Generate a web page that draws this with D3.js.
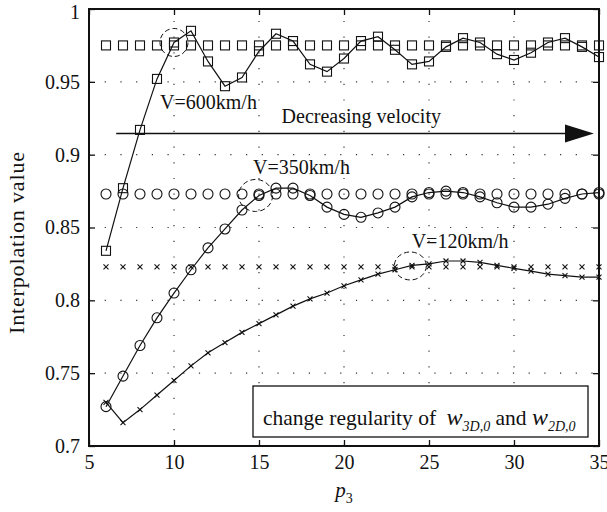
<!DOCTYPE html>
<html>
<head>
<meta charset="utf-8">
<script src="https://cdn.jsdelivr.net/npm/d3@7"></script>
<style>
body { margin: 0; background: #fff; }
svg text { font-family: "Liberation Serif", "Times New Roman", serif; fill: #111; }
</style>
</head>
<body>
<script>
const width = 607;
const height = 512;
const leftPad = 89, rightEdge = 599, topPad = 9, botEdge = 446;

// p3 values (x axis)
const p3 = [6, 7, 8, 9, 10, 11, 12, 13, 14, 15, 16, 17, 18, 19, 20,
            21, 22, 23, 24, 25, 26, 27, 28, 29, 30, 31, 32, 33, 34, 35];

// interpolation values
const v600 = [0.834, 0.877, 0.917, 0.952, 0.977, 0.985, 0.964, 0.947, 0.953, 0.971,
              0.983, 0.978, 0.962, 0.957, 0.966, 0.978, 0.981, 0.972, 0.962, 0.964,
              0.974, 0.980, 0.977, 0.969, 0.965, 0.970, 0.977, 0.980, 0.974, 0.967];
const v350 = [0.727, 0.748, 0.769, 0.788, 0.805, 0.821, 0.836, 0.849, 0.862, 0.872,
              0.877, 0.877, 0.872, 0.864, 0.859, 0.857, 0.860, 0.864, 0.871, 0.874,
              0.875, 0.874, 0.871, 0.867, 0.864, 0.864, 0.866, 0.870, 0.873, 0.874];
const v120 = [0.730, 0.716, 0.725, 0.735, 0.745, 0.755, 0.764, 0.771, 0.778, 0.784,
              0.790, 0.796, 0.801, 0.805, 0.810, 0.814, 0.818, 0.821, 0.824, 0.825,
              0.827, 0.827, 0.826, 0.824, 0.822, 0.820, 0.818, 0.817, 0.816, 0.816];

// constant (2D) levels
const level600 = 0.975;
const level350 = 0.873;
const level120 = 0.823;

const xTicks = [5, 10, 15, 20, 25, 30, 35];
const yTicks = [0.7, 0.75, 0.8, 0.85, 0.9, 0.95, 1];

const xScale = d3.scaleLinear().domain([5, 35]).range([leftPad, rightEdge]);
const yScale = d3.scaleLinear().domain([0.7, 1]).range([botEdge, topPad]);

const svg = d3.select("body").append("svg")
    .attr("width", width).attr("height", height)
    .style("background-color", "#fff");

// dotted grid
svg.append("g").selectAll("line").data(xTicks.slice(1, -1)).enter().append("line")
    .attr("x1", d => xScale(d)).attr("x2", d => xScale(d))
    .attr("y1", botEdge).attr("y2", topPad)
    .attr("stroke", "#333").attr("stroke-width", 1.2)
    .attr("stroke-dasharray", "1.2,14.5");
svg.append("g").selectAll("line").data(yTicks.slice(1, -1)).enter().append("line")
    .attr("y1", d => yScale(d)).attr("y2", d => yScale(d))
    .attr("x1", leftPad).attr("x2", rightEdge)
    .attr("stroke", "#333").attr("stroke-width", 1.2)
    .attr("stroke-dasharray", "1.2,14.5");

// axes, ticks pointing inward
const fmtY = d => d === 1 ? "1" : d3.format("")(d);
svg.append("g").attr("transform", "translate(0," + botEdge + ")")
    .call(d3.axisBottom(xScale).tickValues(xTicks).tickSize(-6).tickPadding(9))
    .call(g => g.select(".domain").remove())
    .call(g => g.selectAll("text").attr("font-size", 20).attr("font-family", "Liberation Serif"));
svg.append("g").attr("transform", "translate(0," + topPad + ")")
    .call(d3.axisTop(xScale).tickValues(xTicks).tickSize(-6).tickFormat(""))
    .call(g => g.select(".domain").remove());
svg.append("g").attr("transform", "translate(" + leftPad + ",0)")
    .call(d3.axisLeft(yScale).tickValues(yTicks).tickSize(-6).tickPadding(9).tickFormat(fmtY))
    .call(g => g.select(".domain").remove())
    .call(g => g.selectAll("text").attr("font-size", 20).attr("font-family", "Liberation Serif"))
    .call(g => g.selectAll(".tick").filter(d => d === 1).select("text").attr("dy", "0.45em"));
svg.append("g").attr("transform", "translate(" + rightEdge + ",0)")
    .call(d3.axisRight(yScale).tickValues(yTicks).tickSize(-6).tickFormat(""))
    .call(g => g.select(".domain").remove());
svg.selectAll(".tick line").attr("stroke", "#111").attr("stroke-width", 1.3);

// frame
svg.append("rect")
    .attr("x", leftPad).attr("y", topPad)
    .attr("width", rightEdge - leftPad).attr("height", botEdge - topPad)
    .attr("fill", "none").attr("stroke", "#111").attr("stroke-width", 2);

const line = d3.line().x(d => xScale(d[0])).y(d => yScale(d[1]));
const series = [
    { vals: v600, level: level600, marker: "square" },
    { vals: v350, level: level350, marker: "circle" },
    { vals: v120, level: level120, marker: "cross" }
];

function drawMarkers(g, pts, marker) {
    if (marker === "square") {
        g.selectAll("rect").data(pts).enter().append("rect")
            .attr("x", d => xScale(d[0]) - 4.5).attr("y", d => yScale(d[1]) - 4.5)
            .attr("width", 9).attr("height", 9)
            .attr("fill", "none").attr("stroke", "#111").attr("stroke-width", 1.1);
    } else if (marker === "circle") {
        g.selectAll("circle").data(pts).enter().append("circle")
            .attr("cx", d => xScale(d[0])).attr("cy", d => yScale(d[1])).attr("r", 5)
            .attr("fill", "none").attr("stroke", "#111").attr("stroke-width", 1.1);
    } else {
        g.selectAll("path").data(pts).enter().append("path")
            .attr("d", d => {
                const cx = xScale(d[0]), cy = yScale(d[1]), s = 2.5;
                return `M${cx - s},${cy - s}L${cx + s},${cy + s}M${cx - s},${cy + s}L${cx + s},${cy - s}`;
            })
            .attr("fill", "none").attr("stroke", "#111").attr("stroke-width", 1.1);
    }
}

series.forEach(s => {
    const pts = p3.map((p, i) => [p, s.vals[i]]);
    const flat = p3.map(p => [p, s.level]);
    drawMarkers(svg.append("g"), flat, s.marker);
    svg.append("path").datum(pts)
        .attr("d", line).attr("fill", "none")
        .attr("stroke", "#111").attr("stroke-width", 1.2);
    drawMarkers(svg.append("g"), pts, s.marker);
});

// dashed ellipses
[[10.0, 0.977, 14, 14], [14.8, 0.872, 17, 16], [23.9, 0.8236, 16, 14]].forEach(e => {
    svg.append("ellipse")
        .attr("cx", xScale(e[0])).attr("cy", yScale(e[1]))
        .attr("rx", e[2]).attr("ry", e[3])
        .attr("fill", "none").attr("stroke", "#111").attr("stroke-width", 1)
        .attr("stroke-dasharray", "5,3");
});

// velocity labels
const labels = [["V=600km/h", 9.18, 0.9315], ["V=350km/h", 14.65, 0.8866], ["V=120km/h", 23.98, 0.8358],
                ["Decreasing velocity", 16.33, 0.9218]];
labels.forEach(l => {
    svg.append("text").attr("x", xScale(l[1])).attr("y", yScale(l[2]))
        .attr("font-size", 20).text(l[0]);
});

// arrow
const ay = yScale(0.9145);
svg.append("line").attr("x1", xScale(6.6)).attr("x2", xScale(33.0))
    .attr("y1", ay).attr("y2", ay).attr("stroke", "#111").attr("stroke-width", 1.5);
svg.append("path")
    .attr("d", `M${xScale(33.0)},${ay - 9}L${xScale(34.7)},${ay}L${xScale(33.0)},${ay + 9}Z`)
    .attr("fill", "#111");

// note box
svg.append("rect").attr("x", 253).attr("y", 386).attr("width", 335).attr("height", 51)
    .attr("fill", "#fff").attr("stroke", "#111").attr("stroke-width", 1.3);
const note = svg.append("text").attr("x", 263).attr("y", 425).attr("font-size", 21.5);
note.append("tspan").text("change regularity of ");
note.append("tspan").attr("dx", 5).attr("font-style", "italic").attr("font-size", 24).text("w");
note.append("tspan").attr("font-style", "italic").attr("font-size", 14).attr("dy", 6).text("3D,0");
note.append("tspan").attr("dy", -6).text(" and ");
note.append("tspan").attr("font-style", "italic").attr("font-size", 24).text("w");
note.append("tspan").attr("font-style", "italic").attr("font-size", 14).attr("dy", 6).text("2D,0");

// axis titles
const xt = svg.append("text").attr("x", 344).attr("y", 497).attr("text-anchor", "middle").attr("font-size", 21);
xt.append("tspan").attr("font-style", "italic").text("p");
xt.append("tspan").attr("font-size", 14).attr("dy", 6).text("3");

svg.append("text")
    .attr("transform", "translate(24,243) rotate(-90)")
    .attr("text-anchor", "middle").attr("font-size", 22)
    .attr("textLength", 182).attr("lengthAdjust", "spacing")
    .text("Interpolation value");
</script>
</body>
</html>
